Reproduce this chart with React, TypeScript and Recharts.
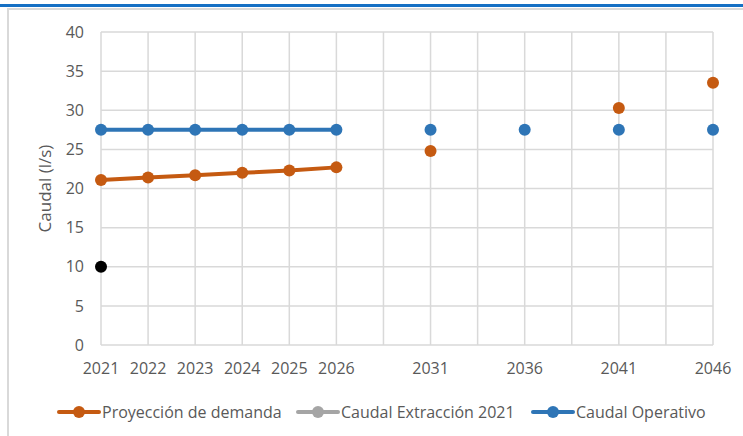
import { LineChart, Line, XAxis, YAxis, CartesianGrid, Legend } from 'recharts';

// categories with blank slots between the 5-year steps (Excel spacing)
const years = ['2021', '2022', '2023', '2024', '2025', '2026', '', '2031', '', '2036', '', '2041', '', '2046'];
const demanda = [21.1, 21.4, 21.7, 22.0, 22.3, 22.7, null, 24.8, null, null, null, 30.3, null, 33.5];
const extraccion = [10, null, null, null, null, null, null, null, null, null, null, null, null, null];
const operativo = [27.5, 27.5, 27.5, 27.5, 27.5, 27.5, null, 27.5, null, 27.5, null, 27.5, null, 27.5];
const yTicks = [0, 5, 10, 15, 20, 25, 30, 35, 40];

const data = years.map((year, i) => ({
  year,
  demanda: demanda[i],
  extraccion: extraccion[i],
  operativo: operativo[i],
}));

const FONT = '"Open Sans", sans-serif';
const TEXT = '#595959';

const legendItems = [
  { name: 'Proyección de demanda', color: '#c55a11', width: 239 },
  { name: 'Caudal Extracción 2021', color: '#a5a5a5', width: 235 },
  { name: 'Caudal Operativo', color: '#2e75b6', width: 180 },
];

const LegendContent = () => (
  <div style={{ display: 'flex', paddingLeft: 57, fontFamily: FONT, fontSize: 16, color: TEXT }}>
    {legendItems.map((item) => (
      <div key={item.name} style={{ display: 'flex', alignItems: 'center', width: item.width, whiteSpace: 'nowrap' }}>
        <svg width={44} height={14}>
          <line x1={2} y1={7} x2={42} y2={7} stroke={item.color} strokeWidth={4} strokeLinecap="round" />
          <circle cx={22} cy={7} r={6} fill={item.color} />
        </svg>
        <span style={{ marginLeft: 1 }}>{item.name}</span>
      </div>
    ))}
  </div>
);

export default function App() {
  return (
    <div style={{ position: 'absolute', left: 0, top: 0, width: 743, height: 436, background: '#fff' }}>
      <div style={{ position: 'absolute', left: 0, top: 4, width: 743, height: 3, background: '#1570c4' }} />
      <div style={{ position: 'absolute', left: 7, top: 8, width: 736, height: 1.5, background: '#d9d9d9' }} />
      <div style={{ position: 'absolute', left: 7, top: 8, width: 2, height: 428, background: '#d9d9d9' }} />
      <div style={{ position: 'absolute', left: 0, top: 0 }}>
        <LineChart width={743} height={436} data={data} margin={{ top: 32, right: 30, bottom: 0, left: 0 }}>
          <CartesianGrid stroke="#d9d9d9" strokeWidth={1.5} />
          <XAxis
            dataKey="year"
            interval={0}
            axisLine={false}
            tickLine={false}
            tickSize={0}
            tickMargin={18}
            height={56}
            tick={{ fill: TEXT, fontSize: 16, fontFamily: FONT }}
          />
          <YAxis
            domain={[0, 40]}
            ticks={yTicks}
            width={101}
            axisLine={false}
            tickLine={false}
            tickSize={0}
            tickMargin={17}
            tick={{ fill: TEXT, fontSize: 16, fontFamily: FONT }}
            label={{
              value: 'Caudal (l/s)',
              angle: -90,
              position: 'insideLeft',
              offset: 45,
              style: { fill: TEXT, fontSize: 17, fontFamily: FONT, textAnchor: 'middle' },
            }}
          />
          <Legend verticalAlign="bottom" height={35} content={<LegendContent />} />
          <Line
            dataKey="demanda"
            stroke="#c55a11"
            strokeWidth={4}
            dot={{ r: 6, fill: '#c55a11', stroke: 'none' }}
            isAnimationActive={false}
          />
          <Line
            dataKey="extraccion"
            stroke="#a5a5a5"
            strokeWidth={4}
            dot={{ r: 6, fill: '#000000', stroke: 'none' }}
            isAnimationActive={false}
          />
          <Line
            dataKey="operativo"
            stroke="#2e75b6"
            strokeWidth={4}
            dot={{ r: 6, fill: '#2e75b6', stroke: 'none' }}
            isAnimationActive={false}
          />
        </LineChart>
      </div>
    </div>
  );
}
